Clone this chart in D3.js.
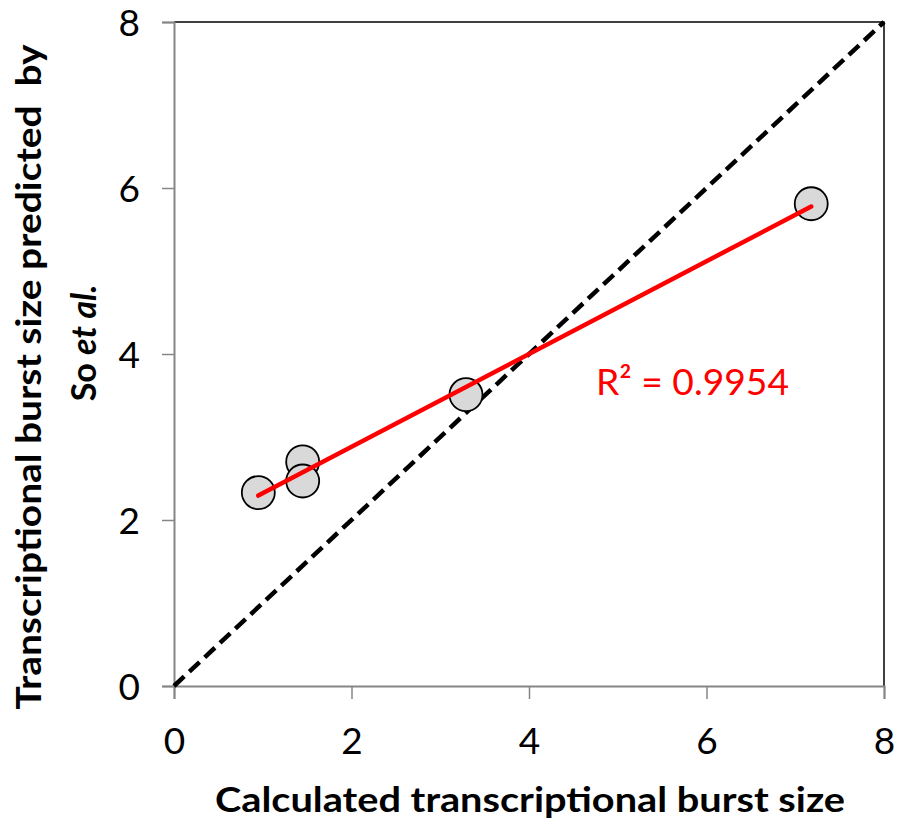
<!DOCTYPE html>
<html>
<head>
<meta charset="utf-8">
<script src="https://cdn.jsdelivr.net/npm/d3@7"></script>
<style>
  body { margin: 0; background: #fff; }
  text { font-family: Lato, "Open Sans", sans-serif; }
</style>
</head>
<body>
<div class="chart"></div>
<script>
var calculated = [0.95, 1.45, 1.45, 3.29, 7.18];
var predicted  = [2.33, 2.70, 2.47, 3.51, 5.81];
var tickValues = [0, 2, 4, 6, 8];
var r2Label = "R\u00b2 = 0.9954";

var width = 898, height = 820;
var plotLeft = 174, plotRight = 884, plotTop = 22, plotBottom = 686;

var svg = d3.select(".chart").append("svg")
    .attr("width", width)
    .attr("height", height);

var x = d3.scaleLinear().domain([0, 8]).range([plotLeft, plotRight]);
var y = d3.scaleLinear().domain([0, 8]).range([plotBottom, plotTop]);

// plot frame (top / right)
svg.append("path")
    .attr("d", "M" + plotLeft + "," + plotTop + "H" + plotRight + "V" + plotBottom)
    .attr("fill", "none")
    .attr("stroke", "#000")
    .attr("stroke-width", 1.5);

// axes
var xAxis = svg.append("g")
    .attr("transform", "translate(0," + plotBottom + ")")
    .call(d3.axisBottom(x).tickValues(tickValues).tickSize(13).tickPadding(14));
var yAxis = svg.append("g")
    .attr("transform", "translate(" + plotLeft + ",0)")
    .call(d3.axisLeft(y).tickValues(tickValues).tickSize(12).tickPadding(22));

[xAxis, yAxis].forEach(function(a) {
  a.attr("font-size", 37).attr("font-family", "Lato, sans-serif");
  a.select(".domain").attr("stroke", "#868686").attr("stroke-width", 2);
  a.selectAll(".tick line").attr("stroke", "#868686").attr("stroke-width", 1.5);
  a.selectAll(".tick text").attr("fill", "#000");
});
xAxis.selectAll(".tick text").attr("dy", null).attr("y", 68);
yAxis.selectAll(".tick text").attr("dy", "0.36em");

// y = x reference line
svg.append("line")
    .attr("x1", x(0)).attr("y1", y(0))
    .attr("x2", x(8)).attr("y2", y(8))
    .attr("stroke", "#000")
    .attr("stroke-width", 4.5)
    .attr("stroke-dasharray", "14,7");

// points
var pts = calculated.map(function(v, i) { return {x: v, y: predicted[i]}; });
svg.selectAll(".dot")
    .data(pts)
    .enter().append("circle")
    .attr("class", "dot")
    .attr("cx", function(d) { return x(d.x); })
    .attr("cy", function(d) { return y(d.y); })
    .attr("r", 16.5)
    .attr("fill", "#d9d9d9")
    .attr("stroke", "#000")
    .attr("stroke-width", 1.8);

// linear trend line (least squares)
var mx = d3.mean(calculated), my = d3.mean(predicted);
var sxy = d3.sum(pts, function(d) { return (d.x - mx) * (d.y - my); });
var sxx = d3.sum(pts, function(d) { return (d.x - mx) * (d.x - mx); });
var slope = sxy / sxx, icpt = my - slope * mx;
var x0 = d3.min(calculated), x1 = d3.max(calculated);
svg.append("line")
    .attr("x1", x(x0)).attr("y1", y(icpt + slope * x0))
    .attr("x2", x(x1)).attr("y2", y(icpt + slope * x1))
    .attr("stroke", "#ff0000")
    .attr("stroke-width", 4.5)
    .attr("stroke-linecap", "round");

svg.append("text")
    .attr("x", 596)
    .attr("y", 395)
    .attr("fill", "#ff0000")
    .attr("font-size", "37px")
    .attr("textLength", 193)
    .attr("lengthAdjust", "spacingAndGlyphs")
    .text(r2Label);

// axis titles
svg.append("text")
    .attr("x", 530)
    .attr("y", 812)
    .attr("text-anchor", "middle")
    .attr("font-size", "34px")
    .attr("font-weight", "bold")
    .attr("textLength", 630)
    .attr("lengthAdjust", "spacingAndGlyphs")
    .text("Calculated transcriptional burst size");

var yt = svg.append("g")
    .attr("transform", "translate(41,377) rotate(-90)");
yt.append("text")
    .attr("text-anchor", "middle")
    .attr("font-size", "34px")
    .attr("font-weight", "bold")
    .attr("xml:space", "preserve")
    .attr("textLength", 665)
    .attr("lengthAdjust", "spacingAndGlyphs")
    .text("Transcriptional burst size predicted  by");
var l2 = yt.append("text")
    .attr("x", 34)
    .attr("y", 55)
    .attr("text-anchor", "middle")
    .attr("font-size", "34px")
    .attr("font-weight", "bold");
l2.append("tspan").text("So ");
l2.append("tspan").attr("font-style", "italic").text("et al.");
</script>
</body>
</html>
